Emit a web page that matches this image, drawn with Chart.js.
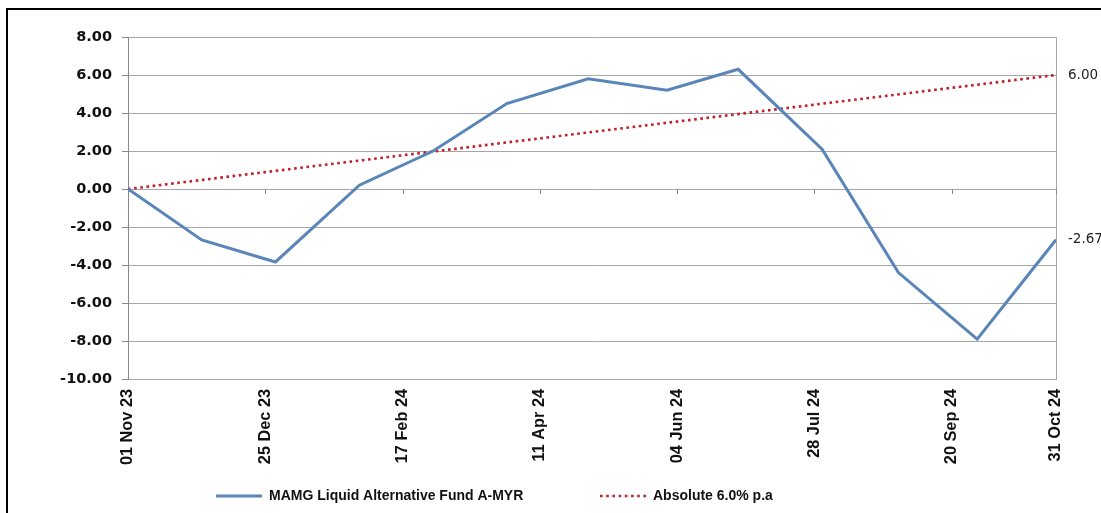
<!DOCTYPE html>
<html>
<head>
<meta charset="utf-8">
<script src="https://cdn.jsdelivr.net/npm/chart.js@4.4.1/dist/chart.umd.min.js"></script>
<style>
    html, body { margin: 0; padding: 0; background: #fff; overflow: hidden; }
    #wrap { position: relative; width: 1101px; height: 513px; }
    #frame { position: absolute; left: 6px; top: 8px; width: 1200px; height: 700px; border-left: 2px solid #000; border-top: 2px solid #000; pointer-events: none; }
</style>
</head>
<body>
<div id="wrap">
    <canvas id="perfChart" width="1101" height="513"></canvas>
    <div id="frame"></div>
</div>
<script>
// month-end observation dates and cumulative return (%)
const fundDates = ['2023-11-01', '2023-11-30', '2023-12-29', '2024-01-31', '2024-02-29', '2024-03-29', '2024-04-30',
    '2024-05-31', '2024-06-28', '2024-07-31', '2024-08-30', '2024-09-30', '2024-10-31'];
const fundValues = [0, -2.68, -3.84, 0.2, 2.0, 4.5, 5.8, 5.2, 6.3, 2.1, -4.4, -7.9, -2.67];

// benchmark: absolute 6% p.a. (straight line)
const benchDates = ['2023-11-01', '2024-10-31'];
const benchValues = [0, 6.0];

const tickDates = ['2023-11-01', '2023-12-25', '2024-02-17', '2024-04-11', '2024-06-04', '2024-07-28', '2024-09-20', '2024-10-31'];
const tickLabels = ['01 Nov 23', '25 Dec 23', '17 Feb 24', '11 Apr 24', '04 Jun 24', '28 Jul 24', '20 Sep 24', '31 Oct 24'];

const seriesNames = ['MAMG Liquid Alternative Fund A-MYR', 'Absolute 6.0% p.a'];

const startTime = new Date(fundDates[0]).getTime();
const dayOf = d => Math.round((new Date(d).getTime() - startTime) / 86400000);
const tickDays = tickDates.map(dayOf);

const gridGray = '#a6a6a6';

// tick marks on the zero line, end labels and legend
const extras = {
    id: 'extras',
    beforeDatasetsDraw(chart) {
        const ctx = chart.ctx;
        const x = chart.scales.x, y = chart.scales.y;
        const y0 = y.getPixelForValue(0);
        ctx.save();
        ctx.strokeStyle = '#888';
        ctx.lineWidth = 1;
        tickDays.forEach(d => {
            const px = Math.round(x.getPixelForValue(d)) + 0.5;
            ctx.beginPath();
            ctx.moveTo(px, y0);
            ctx.lineTo(px, y0 + 5);
            ctx.stroke();
        });
        ctx.restore();
    },
    afterDraw(chart) {
        const ctx = chart.ctx;
        const y = chart.scales.y;
        ctx.save();
        // last values on the right
        ctx.font = '13.5px "DejaVu Sans"';
        ctx.fillStyle = '#222';
        ctx.textBaseline = 'middle';
        ctx.textAlign = 'left';
        chart.data.datasets.forEach(ds => {
            const last = ds.data[ds.data.length - 1];
            ctx.fillText(last.y.toFixed(2), chart.chartArea.right + 12, y.getPixelForValue(last.y));
        });

        // legend
        const legendY = 496;
        const starts = [216, 600];
        ctx.font = 'bold 14px "Liberation Sans"';
        ctx.fillStyle = '#111';
        chart.data.datasets.forEach((ds, i) => {
            const x0 = starts[i];
            ctx.strokeStyle = ds.borderColor;
            ctx.lineWidth = ds.borderWidth;
            ctx.setLineDash(ds.borderDash || []);
            ctx.beginPath();
            ctx.moveTo(x0, legendY);
            ctx.lineTo(x0 + 46, legendY);
            ctx.stroke();
            ctx.setLineDash([]);
            ctx.fillText(ds.label, x0 + 53, legendY);
        });
        ctx.restore();
    }
};

new Chart(document.getElementById('perfChart'), {
    type: 'line',
    data: {
        datasets: [
            {
                label: seriesNames[0],
                data: fundDates.map((d, i) => ({ x: dayOf(d), y: fundValues[i] })),
                borderColor: '#5a85b8',
                borderWidth: 3,
                pointRadius: 0,
                tension: 0,
                fill: false
            },
            {
                label: seriesNames[1],
                data: benchDates.map((d, i) => ({ x: dayOf(d), y: benchValues[i] })),
                borderColor: '#c0202a',
                borderWidth: 2.6,
                borderDash: [2.6, 3.6],
                pointRadius: 0,
                fill: false
            }
        ]
    },
    options: {
        responsive: false,
        animation: false,
        layout: { padding: { top: 37, right: 45, bottom: 0, left: 0 } },
        plugins: {
            legend: { display: false },
            tooltip: { enabled: false }
        },
        scales: {
            x: {
                type: 'linear',
                min: 0,
                max: tickDays[tickDays.length - 1],
                afterBuildTicks: scale => { scale.ticks = tickDays.map(v => ({ value: v })); },
                afterFit: scale => { scale.height = 134; },
                grid: {
                    drawTicks: false,
                    color: ctx => ctx.index === tickDays.length - 1 ? gridGray : 'rgba(0,0,0,0)'
                },
                border: { display: true, color: gridGray },
                ticks: {
                    autoSkip: false,
                    minRotation: 90,
                    maxRotation: 90,
                    padding: 10,
                    color: '#111',
                    font: { family: '"Liberation Sans"', size: 16.3, weight: 'bold' },
                    callback: (value, index) => tickLabels[index]
                }
            },
            y: {
                min: -10,
                max: 8,
                afterFit: scale => { scale.width = 128; },
                grid: { color: gridGray, tickLength: 6, tickColor: '#888' },
                border: { display: true, color: '#888' },
                ticks: {
                    stepSize: 2,
                    padding: 10,
                    color: '#111',
                    font: { family: '"DejaVu Sans"', size: 14.5, weight: 'bold' },
                    callback: v => v.toFixed(2)
                }
            }
        }
    },
    plugins: [extras]
});
</script>
</body>
</html>
